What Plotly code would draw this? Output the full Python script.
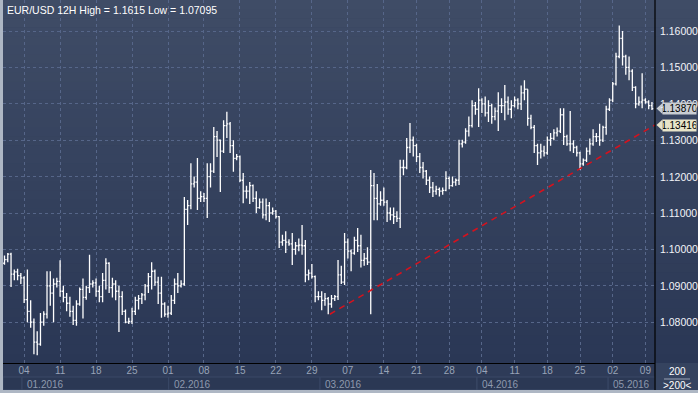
import plotly.graph_objects as go

# ---------------- data (12H bars, EUR/USD, late Dec 2015 - 10 May 2016) ----------------
bar_open = [
    1.0962, 1.0972, 1.0987, 1.0932, 1.0938, 1.0928, 1.0922, 1.0862, 1.0830, 1.0800,
    1.0745, 1.0740, 1.0800, 1.0822, 1.0900, 1.0880, 1.0905, 1.0912, 1.0885, 1.0868,
    1.0852, 1.0830, 1.0805, 1.0850, 1.0890, 1.0868, 1.0895, 1.0905, 1.0908, 1.0885,
    1.0870, 1.0915, 1.0962, 1.0895, 1.0905, 1.0885, 1.0870, 1.0830, 1.0800, 1.0802,
    1.0830, 1.0860, 1.0865, 1.0875, 1.0900, 1.0925, 1.0940, 1.0910, 1.0880, 1.0850,
    1.0822, 1.0825, 1.0860, 1.0905, 1.0900, 1.0905, 1.1110, 1.1120, 1.1180, 1.1185,
    1.1140, 1.1145, 1.1140, 1.1200, 1.1215, 1.1310, 1.1300, 1.1270, 1.1340, 1.1345,
    1.1285, 1.1250, 1.1255, 1.1190, 1.1160, 1.1160, 1.1175, 1.1140, 1.1115, 1.1130,
    1.1095, 1.1120, 1.1100, 1.1105, 1.1090, 1.1020, 1.1025, 1.1020, 1.1015, 1.1000,
    1.1010, 1.1012, 1.1010, 1.0930, 1.0935, 1.0925, 1.0870, 1.0870, 1.0860, 1.0865,
    1.0850, 1.0865, 1.0870, 1.0930, 1.0910, 1.1020, 1.0995, 1.0990, 1.1025, 1.1010,
    1.0970, 1.0975, 1.0965, 1.1175, 1.1140, 1.1125, 1.1135, 1.1130, 1.1100, 1.1095,
    1.1090, 1.1085, 1.1225, 1.1225, 1.1280, 1.1300, 1.1285, 1.1255, 1.1225, 1.1215,
    1.1190, 1.1170, 1.1160, 1.1165, 1.1160, 1.1162, 1.1195, 1.1175, 1.1185, 1.1190,
    1.1290, 1.1295, 1.1325, 1.1340, 1.1395, 1.1385, 1.1410, 1.1400, 1.1375, 1.1395,
    1.1365, 1.1380, 1.1395, 1.1395, 1.1405, 1.1385, 1.1395, 1.1410, 1.1400, 1.1430,
    1.1440, 1.1360, 1.1335, 1.1285, 1.1265, 1.1270, 1.1265, 1.1300, 1.1305, 1.1320,
    1.1325, 1.1370, 1.1310, 1.1290, 1.1290, 1.1280, 1.1265, 1.1235, 1.1245, 1.1270,
    1.1290, 1.1310, 1.1310, 1.1300, 1.1335, 1.1385, 1.1410, 1.1455, 1.1530, 1.1580,
    1.1530, 1.1500, 1.1490, 1.1445, 1.1400, 1.1405, 1.1410, 1.1405, 1.1395,
]
bar_high = [
    1.0983, 1.0990, 1.0991, 1.0945, 1.0947, 1.0935, 1.0926, 1.0945, 1.0860, 1.0810,
    1.0775, 1.0825, 1.0830, 1.0940, 1.0940, 1.0920, 1.0922, 1.0970, 1.0900, 1.0880,
    1.0870, 1.0845, 1.0860, 1.0895, 1.0920, 1.0900, 1.0985, 1.0915, 1.0920, 1.0900,
    1.0935, 1.0976, 1.0965, 1.0922, 1.0915, 1.0900, 1.0885, 1.0835, 1.0812, 1.0840,
    1.0870, 1.0875, 1.0880, 1.0905, 1.0935, 1.0965, 1.0945, 1.0925, 1.0925, 1.0855,
    1.0845, 1.0875, 1.0920, 1.0935, 1.0915, 1.1144, 1.1136, 1.1237, 1.1200, 1.1251,
    1.1160, 1.1155, 1.1237, 1.1237, 1.1336, 1.1325, 1.1302, 1.1355, 1.1378, 1.1350,
    1.1300, 1.1262, 1.1258, 1.1210, 1.1175, 1.1185, 1.1178, 1.1160, 1.1140, 1.1140,
    1.1140, 1.1130, 1.1115, 1.1108, 1.1092, 1.1040, 1.1050, 1.1028, 1.1045, 1.1020,
    1.1030, 1.1067, 1.1026, 1.0945, 1.0960, 1.0928, 1.0885, 1.0885, 1.0880, 1.0869,
    1.0875, 1.0875, 1.0971, 1.0955, 1.1045, 1.1030, 1.1000, 1.1035, 1.1059, 1.1040,
    1.0990, 1.1006, 1.1218, 1.1210, 1.1180, 1.1160, 1.1170, 1.1136, 1.1115, 1.1115,
    1.1105, 1.1246, 1.1246, 1.1306, 1.1347, 1.1310, 1.1290, 1.1265, 1.1240, 1.1218,
    1.1200, 1.1185, 1.1175, 1.1170, 1.1170, 1.1215, 1.1200, 1.1200, 1.1195, 1.1301,
    1.1301, 1.1333, 1.1365, 1.1410, 1.1405, 1.1443, 1.1415, 1.1420, 1.1410, 1.1400,
    1.1390, 1.1432, 1.1415, 1.1452, 1.1420, 1.1410, 1.1420, 1.1415, 1.1450, 1.1465,
    1.1440, 1.1370, 1.1342, 1.1290, 1.1290, 1.1285, 1.1310, 1.1320, 1.1330, 1.1335,
    1.1388, 1.1388, 1.1315, 1.1380, 1.1300, 1.1285, 1.1268, 1.1250, 1.1280, 1.1305,
    1.1330, 1.1320, 1.1345, 1.1340, 1.1395, 1.1415, 1.1460, 1.1540, 1.1615, 1.1600,
    1.1535, 1.1530, 1.1495, 1.1448, 1.1420, 1.1484, 1.1415, 1.1410, 1.1405,
]
bar_low = [
    1.0958, 1.0965, 1.0897, 1.0915, 1.0915, 1.0905, 1.0853, 1.0800, 1.0785, 1.0712,
    1.07095, 1.0735, 1.0790, 1.0810, 1.0845, 1.0800, 1.0895, 1.0870, 1.0855, 1.0830,
    1.0815, 1.0792, 1.0790, 1.0845, 1.0810, 1.0862, 1.0880, 1.0895, 1.0870, 1.0855,
    1.0855, 1.0890, 1.0880, 1.0868, 1.0860, 1.0773, 1.0820, 1.0797, 1.0795, 1.0795,
    1.0820, 1.0835, 1.0850, 1.0860, 1.0880, 1.0890, 1.0900, 1.0850, 1.0812, 1.0815,
    1.0812, 1.0820, 1.0850, 1.0880, 1.0895, 1.0900, 1.1067, 1.1110, 1.1170, 1.1108,
    1.1130, 1.1130, 1.1086, 1.1170, 1.1210, 1.1254, 1.1158, 1.1265, 1.1306, 1.1265,
    1.1213, 1.1245, 1.1185, 1.1127, 1.1140, 1.1125, 1.1130, 1.1100, 1.1112, 1.1085,
    1.1080, 1.1075, 1.1095, 1.1085, 1.1004, 1.1010, 1.0990, 1.1010, 1.0957, 1.0985,
    1.0995, 1.0985, 1.0910, 1.0915, 1.0920, 1.0855, 1.0860, 1.0833, 1.0845, 1.0822,
    1.0840, 1.0858, 1.0861, 1.0905, 1.0902, 1.0975, 1.0940, 1.0985, 1.0993, 1.0950,
    1.0955, 1.0957, 1.0822, 1.1080, 1.1080, 1.1120, 1.1120, 1.1075, 1.1080, 1.1070,
    1.1075, 1.1059, 1.1204, 1.1220, 1.1265, 1.1255, 1.1240, 1.1210, 1.1195, 1.1177,
    1.1155, 1.1144, 1.1150, 1.1145, 1.1150, 1.1160, 1.1165, 1.1172, 1.1175, 1.1177,
    1.1280, 1.1290, 1.1310, 1.1335, 1.1370, 1.1336, 1.1375, 1.1365, 1.1350, 1.1345,
    1.1355, 1.1325, 1.1375, 1.1355, 1.1370, 1.1360, 1.1390, 1.1385, 1.1383, 1.1410,
    1.1340, 1.1330, 1.1265, 1.1232, 1.1250, 1.1255, 1.1260, 1.1285, 1.1300, 1.1310,
    1.1320, 1.1287, 1.1285, 1.1270, 1.1265, 1.1255, 1.1218, 1.1230, 1.1240, 1.1260,
    1.1285, 1.1295, 1.1285, 1.1295, 1.1315, 1.1380, 1.1405, 1.1450, 1.1525, 1.1505,
    1.1480, 1.1465, 1.1435, 1.1388, 1.1395, 1.1388, 1.1400, 1.1385, 1.1383,
]
bar_close = [
    1.0972, 1.0987, 1.0932, 1.0938, 1.0928, 1.0922, 1.0862, 1.0830, 1.0800, 1.0745,
    1.0740, 1.0800, 1.0822, 1.0900, 1.0880, 1.0905, 1.0912, 1.0885, 1.0868, 1.0852,
    1.0830, 1.0805, 1.0850, 1.0890, 1.0868, 1.0895, 1.0905, 1.0908, 1.0885, 1.0870,
    1.0915, 1.0962, 1.0895, 1.0905, 1.0885, 1.0870, 1.0830, 1.0800, 1.0802, 1.0830,
    1.0860, 1.0865, 1.0875, 1.0900, 1.0925, 1.0940, 1.0910, 1.0880, 1.0850, 1.0822,
    1.0825, 1.0860, 1.0905, 1.0900, 1.0905, 1.1110, 1.1120, 1.1180, 1.1185, 1.1140,
    1.1145, 1.1140, 1.1200, 1.1215, 1.1310, 1.1300, 1.1270, 1.1340, 1.1345, 1.1285,
    1.1250, 1.1255, 1.1190, 1.1160, 1.1160, 1.1175, 1.1140, 1.1115, 1.1130, 1.1095,
    1.1120, 1.1100, 1.1105, 1.1090, 1.1020, 1.1025, 1.1020, 1.1015, 1.1000, 1.1010,
    1.1012, 1.1010, 1.0930, 1.0935, 1.0925, 1.0870, 1.0870, 1.0860, 1.0865, 1.0850,
    1.0865, 1.0870, 1.0930, 1.0910, 1.1020, 1.0995, 1.0990, 1.1025, 1.1010, 1.0970,
    1.0975, 1.0965, 1.1175, 1.1140, 1.1125, 1.1135, 1.1130, 1.1100, 1.1095, 1.1090,
    1.1085, 1.1225, 1.1225, 1.1280, 1.1300, 1.1285, 1.1255, 1.1225, 1.1215, 1.1190,
    1.1170, 1.1160, 1.1165, 1.1160, 1.1162, 1.1195, 1.1175, 1.1185, 1.1190, 1.1290,
    1.1295, 1.1325, 1.1340, 1.1395, 1.1385, 1.1410, 1.1400, 1.1375, 1.1395, 1.1365,
    1.1380, 1.1395, 1.1395, 1.1405, 1.1385, 1.1395, 1.1410, 1.1400, 1.1430, 1.1440,
    1.1360, 1.1335, 1.1285, 1.1265, 1.1270, 1.1265, 1.1300, 1.1305, 1.1320, 1.1325,
    1.1370, 1.1310, 1.1290, 1.1290, 1.1280, 1.1265, 1.1235, 1.1245, 1.1270, 1.1290,
    1.1310, 1.1310, 1.1300, 1.1335, 1.1385, 1.1410, 1.1455, 1.1530, 1.1580, 1.1530,
    1.1500, 1.1490, 1.1445, 1.1400, 1.1405, 1.1410, 1.1405, 1.1395, 1.1387,
]
bar_index = list(range(len(bar_close)))

week_tick_bars = [6, 17, 28, 39, 50, 61, 72, 83, 94, 105, 116, 126, 136, 146, 156, 166, 176, 186, 196]
week_tick_labels = ["04", "11", "18", "25", "01", "08", "15", "22", "29", "07",
                    "14", "21", "28", "04", "11", "18", "25", "02", "09"]
month_start_bars = [5.35, 50.2, 96.5, 144.5, 184.6]
month_labels = ["01.2016", "02.2016", "03.2016", "04.2016", "05.2016"]
price_ticks = [1.08, 1.09, 1.10, 1.11, 1.12, 1.13, 1.14, 1.15, 1.16]
price_tick_labels = ["1.08000", "1.09000", "1.10000", "1.11000", "1.12000",
                     "1.13000", "1.14000", "1.15000", "1.16000"]
trend_bars = [99.5, 198.93]
trend_prices = [1.0822, 1.13416]
last_close_label = "1.13870"
trend_end_label = "1.13416"
title_text = "EUR/USD 12H High = 1.1615 Low = 1.07095"

# ---------------- layout geometry ----------------
W, H = 698, 393
ML, MR, MT, MB = 3, 43, 0, 30
PW, PH = W - ML - MR, H - MT - MB
X_RANGE = [-0.46, 198.93]
Y_RANGE = [1.06879, 1.16852]


def px_x(px):
    return (px - ML) / PW


def px_y(py):
    return (H - MB - py) / PH


def bar_to_paper(b):
    return (b - X_RANGE[0]) / (X_RANGE[1] - X_RANGE[0])


FONT = "Liberation Sans, Arial, sans-serif"
shapes = []

# background gradient (plot + right price panel)
top_rgb = (63, 76, 102)
bot_rgb = (42, 55, 85)
n_bands = 40
for k in range(n_bands):
    t = (k + 0.5) / n_bands
    c = tuple(round(top_rgb[j] + (bot_rgb[j] - top_rgb[j]) * t) for j in range(3))
    y0 = 363 * k / n_bands
    y1 = 363 * (k + 1) / n_bands + 0.6
    shapes.append(dict(type="rect", xref="paper", yref="paper",
                       x0=px_x(3), x1=px_x(698), y0=px_y(y1), y1=px_y(y0),
                       fillcolor="rgb(%d,%d,%d)" % c, line=dict(width=0), layer="below"))

# bottom time strip
shapes.append(dict(type="rect", xref="paper", yref="paper",
                   x0=px_x(3), x1=px_x(655), y0=px_y(390), y1=px_y(363),
                   fillcolor="#2e3b58", line=dict(width=0), layer="below"))
bounds = [X_RANGE[0]] + month_start_bars + [X_RANGE[1]]
for k in range(len(bounds) - 1):
    shapes.append(dict(type="rect", xref="paper", yref="paper",
                       x0=bar_to_paper(bounds[k]), x1=bar_to_paper(bounds[k + 1]),
                       y0=px_y(390), y1=px_y(377),
                       fillcolor="#2b3854", line=dict(color="#3a4866", width=1), layer="below"))
# bottom-right corner box
shapes.append(dict(type="rect", xref="paper", yref="paper",
                   x0=px_x(655), x1=px_x(698), y0=px_y(390), y1=px_y(363),
                   fillcolor="#35435f", line=dict(width=0), layer="below"))
shapes.append(dict(type="line", xref="paper", yref="paper",
                   x0=px_x(664), x1=px_x(690), y0=px_y(379), y1=px_y(379),
                   line=dict(color="#9aa4b6", width=1), layer="above"))

# separators
shapes.append(dict(type="line", xref="paper", yref="paper",
                   x0=px_x(655), x1=px_x(655), y0=px_y(390), y1=px_y(0),
                   line=dict(color="#000000", width=1.2), layer="above"))
shapes.append(dict(type="line", xref="paper", yref="paper",
                   x0=px_x(3), x1=px_x(655), y0=px_y(363.5), y1=px_y(363.5),
                   line=dict(color="#000000", width=1.2), layer="above"))
# light outer frame (left + bottom)
shapes.append(dict(type="rect", xref="paper", yref="paper",
                   x0=px_x(0), x1=px_x(3), y0=px_y(393), y1=px_y(0),
                   fillcolor="#aeb7c4", line=dict(width=0), layer="above"))
shapes.append(dict(type="rect", xref="paper", yref="paper",
                   x0=px_x(0), x1=px_x(698), y0=px_y(393), y1=px_y(390),
                   fillcolor="#aeb7c4", line=dict(width=0), layer="above"))

# arrow tips of the price label boxes
half_h = 5.5 / PH * (Y_RANGE[1] - Y_RANGE[0])


def price_tip(price, fill):
    path = "M %f,%f L %f,%f L %f,%f Z" % (
        px_x(656.5), price, px_x(662.5), price + half_h, px_x(662.5), price - half_h)
    return dict(type="path", xref="paper", yref="y", path=path,
                fillcolor=fill, line=dict(width=0), layer="above")


shapes.append(price_tip(float(last_close_label), "#c9cdd2"))
shapes.append(price_tip(float(trend_end_label), "#e7e4c9"))

annotations = [
    dict(text=title_text, xref="paper", yref="paper", x=px_x(5), y=px_y(2),
         xanchor="left", yanchor="top", showarrow=False,
         font=dict(family=FONT, size=10.5, color="#ffffff")),
]
# price-axis labels drawn as annotations so that the price boxes can sit on top
for p, lab in zip(price_ticks, price_tick_labels):
    annotations.append(dict(text=lab, xref="paper", yref="y", x=px_x(658), y=p,
                            xanchor="left", yanchor="middle", showarrow=False,
                            font=dict(family=FONT, size=10.5, color="#f2f4f8")))
annotations += [
    dict(text=last_close_label, xref="paper", yref="y", x=px_x(662), y=float(last_close_label),
         xanchor="left", yanchor="middle", showarrow=False,
         bgcolor="#c9cdd2", borderpad=0, width=33, height=11, align="center",
         font=dict(family=FONT, size=10, color="#000000")),
    dict(text=trend_end_label, xref="paper", yref="y", x=px_x(662), y=float(trend_end_label),
         xanchor="left", yanchor="middle", showarrow=False,
         bgcolor="#e7e4c9", borderpad=0, width=33, height=11, align="center",
         font=dict(family=FONT, size=10, color="#000000")),
    dict(text="200", xref="paper", yref="paper", x=px_x(677), y=px_y(371),
         xanchor="center", yanchor="middle", showarrow=False,
         font=dict(family=FONT, size=10, color="#ffffff")),
    dict(text="&gt;200&lt;", xref="paper", yref="paper", x=px_x(677), y=px_y(385),
         xanchor="center", yanchor="middle", showarrow=False,
         font=dict(family=FONT, size=10, color="#ffffff")),
]
for b, lab in zip(month_start_bars, month_labels):
    annotations.append(dict(text=lab, xref="x", yref="paper", x=b, y=px_y(384),
                            xanchor="left", yanchor="middle", xshift=3, showarrow=False,
                            font=dict(family=FONT, size=10, color="#8e99ae")))

fig = go.Figure()
fig.add_trace(go.Ohlc(
    x=bar_index, open=bar_open, high=bar_high, low=bar_low, close=bar_close,
    increasing=dict(line=dict(color="#ffffff", width=1.3)),
    decreasing=dict(line=dict(color="#ffffff", width=1.3)),
    tickwidth=0.4, showlegend=False, hoverinfo="skip",
))
fig.add_trace(go.Scatter(
    x=trend_bars, y=trend_prices, mode="lines",
    line=dict(color="#d4121e", width=1.6, dash="6px,5px"),
    showlegend=False, hoverinfo="skip",
))

fig.update_layout(
    width=W, height=H,
    margin=dict(l=ML, r=MR, t=MT, b=MB, pad=0),
    paper_bgcolor="#2e3b58",
    plot_bgcolor="rgba(0,0,0,0)",
    shapes=shapes,
    annotations=annotations,
    showlegend=False,
    xaxis=dict(
        range=X_RANGE, rangeslider=dict(visible=False), fixedrange=True,
        tickmode="array", tickvals=week_tick_bars, ticktext=week_tick_labels,
        showgrid=True, gridcolor="#566689", gridwidth=1, griddash="3px,3px",
        zeroline=False, showline=False, ticks="",
        tickfont=dict(family=FONT, size=10, color="#98a3b7"),
    ),
    yaxis=dict(
        range=Y_RANGE, side="right", fixedrange=True,
        tickmode="array", tickvals=price_ticks, showticklabels=False,
        showgrid=True, gridcolor="#566689", gridwidth=1, griddash="3px,3px",
        zeroline=False, showline=False, ticks="",
    ),
)

fig.write_html(
    "out.html",
    config={"displayModeBar": False, "staticPlot": True},
    post_script="document.body.style.margin='0';document.body.style.padding='0';document.body.style.overflow='hidden';",
)
